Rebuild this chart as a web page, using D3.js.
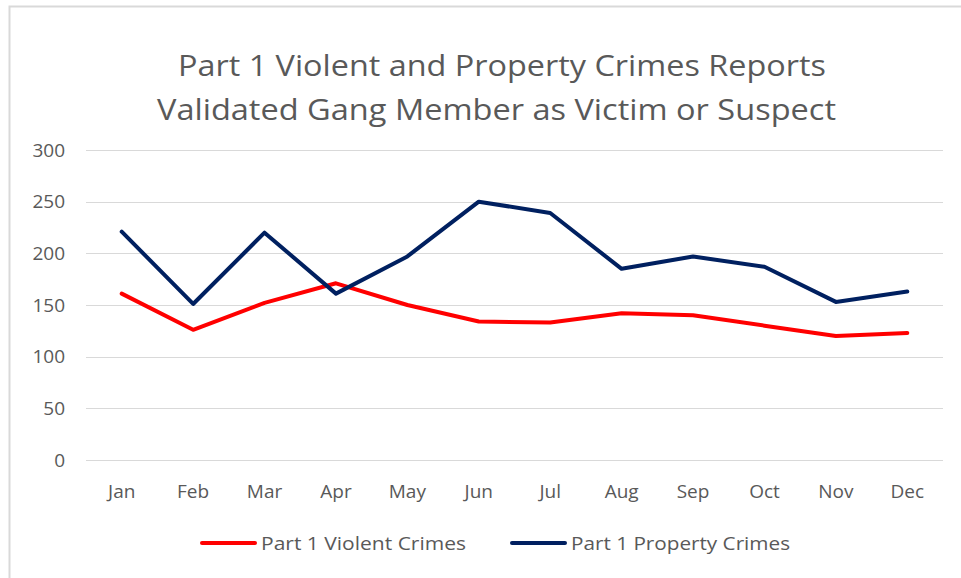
<!DOCTYPE html>
<html>
<head>
<meta charset="utf-8">
<script src="https://cdn.jsdelivr.net/npm/d3@7"></script>
<style>
  html, body { margin: 0; padding: 0; background: #fff; }
  svg { display: block; font-family: "Open Sans", "Liberation Sans", sans-serif; }
</style>
</head>
<body>
<div id="chart"></div>
<script>
// chart data
const months = ["Jan", "Feb", "Mar", "Apr", "May", "Jun", "Jul", "Aug", "Sep", "Oct", "Nov", "Dec"];
const violent = [161, 126, 152, 171, 150, 134, 133, 142, 140, 130, 120, 123];
const property = [221, 151, 220, 161, 197, 250, 239, 185, 197, 187, 153, 163];
const yTicks = [0, 50, 100, 150, 200, 250, 300];
const titleLines = ["Part 1 Violent and Property Crimes Reports", "Validated Gang Member as Victim or Suspect"];
const seriesNames = ["Part 1 Violent Crimes", "Part 1 Property Crimes"];

var width = 961, height = 578;
var textColor = "#595959";
var colors = ["#ff0000", "#002060"];

var svg = d3.select("#chart").append("svg")
  .attr("width", width)
  .attr("height", height);

// chart frame
svg.append("rect")
  .attr("x", 9.5).attr("y", 6.5)
  .attr("width", 980).attr("height", 600)
  .attr("fill", "#fff")
  .attr("stroke", "#d9d9d9")
  .attr("stroke-width", 2);

var x = d3.scaleBand().domain(months).range([86, 943]);
var y = d3.scaleLinear().domain([0, 300]).range([460, 150]);
var cx = d => x(d) + x.bandwidth() / 2;

// title
svg.selectAll("text.title")
  .data(titleLines)
  .join("text")
  .attr("class", "title")
  .attr("x", (d, i) => i == 0 ? 178 : 157)
  .attr("y", (d, i) => i == 0 ? 76 : 120)
  .attr("textLength", (d, i) => i == 0 ? 648 : 679)
  .attr("lengthAdjust", "spacingAndGlyphs")
  .attr("font-size", 30)
  .attr("fill", textColor)
  .text(d => d);

// gridlines
svg.append("g")
  .selectAll("line")
  .data(yTicks)
  .join("line")
  .attr("x1", 86).attr("x2", 943)
  .attr("y1", d => Math.round(y(d)) + 0.5)
  .attr("y2", d => Math.round(y(d)) + 0.5)
  .attr("stroke", "#d9d9d9")
  .attr("stroke-width", 1);

// y labels
svg.append("g")
  .selectAll("text")
  .data(yTicks)
  .join("text")
  .attr("x", 65)
  .attr("y", d => y(d))
  .attr("dy", "0.35em")
  .attr("text-anchor", "end")
  .attr("font-size", 19)
  .attr("fill", textColor)
  .text(d => d);

// x labels
svg.append("g")
  .selectAll("text")
  .data(months)
  .join("text")
  .attr("x", d => cx(d))
  .attr("y", 498)
  .attr("text-anchor", "middle")
  .attr("font-size", 19)
  .attr("fill", textColor)
  .text(d => d);

// lines
var line = d3.line()
  .x((d, i) => cx(months[i]))
  .y(d => y(d));

[violent, property].forEach((vals, i) => {
  svg.append("path")
    .datum(vals)
    .attr("d", line)
    .attr("fill", "none")
    .attr("stroke", colors[i])
    .attr("stroke-width", 4)
    .attr("stroke-linejoin", "round")
    .attr("stroke-linecap", "round");
});

// legend
var legendX = [202, 512];
var lg = svg.append("g")
  .selectAll("g")
  .data(seriesNames)
  .join("g")
  .attr("transform", (d, i) => `translate(${legendX[i]},543)`);
lg.append("line")
  .attr("x1", 0).attr("x2", 53)
  .attr("stroke", (d, i) => colors[i])
  .attr("stroke-width", 4)
  .attr("stroke-linecap", "round");
lg.append("text")
  .attr("x", 59)
  .attr("y", 0)
  .attr("dy", "0.35em")
  .attr("textLength", (d, i) => i == 0 ? 205 : 219)
  .attr("lengthAdjust", "spacingAndGlyphs")
  .attr("font-size", 19)
  .attr("fill", textColor)
  .text(d => d);
</script>
</body>
</html>
